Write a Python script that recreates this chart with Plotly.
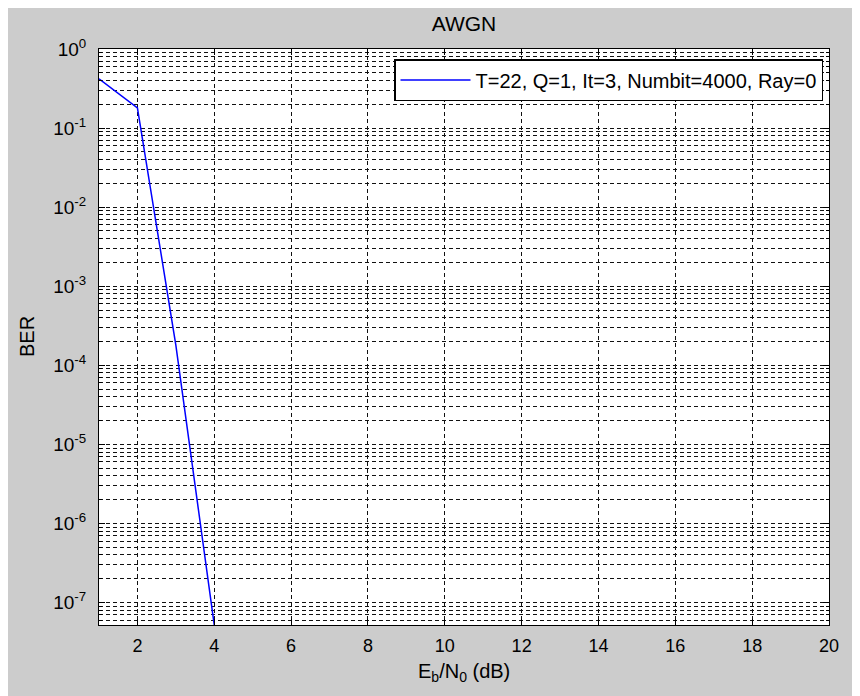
import numpy as np
import plotly.graph_objects as go

# Data
ebn0 = [1, 2, 3, 4]
ber = [0.42, 0.18, 1.8e-4, 5.2e-8]
series_name = "T=22, Q=1, It=3, Numbit=4000, Ray=0"
x_ticks = [2, 4, 6, 8, 10, 12, 14, 16, 18, 20]
y_exps = [0, -1, -2, -3, -4, -5, -6, -7]

W, H = 860, 696
L, R, T, B = 91, 39, 41, 79
plot_w = W - L - R
plot_h = H - T - B

y_lo = np.log10(min(ber))
y_major = [10.0 ** e for e in y_exps]
y_minor = [m * 10.0 ** e for e in range(-8, 0) for m in range(2, 10)
           if np.log10(m * 10.0 ** e) >= y_lo]

FONT = "Arial, Liberation Sans, sans-serif"
GRID = "#111111"

fig = go.Figure()
fig.add_trace(go.Scatter(x=ebn0, y=ber, mode="lines", name=series_name,
                         line=dict(color="#0000ff", width=1.5)))

fig.update_layout(
    width=W, height=H,
    margin=dict(l=L, r=R, t=T, b=B, autoexpand=False),
    paper_bgcolor="#cccccc", plot_bgcolor="white",
    font=dict(family=FONT, color="black", size=18),
    title=dict(text="AWGN", x=0.5, xref="paper", xanchor="center",
               y=1 - 16 / H, yanchor="middle", font=dict(size=21, family=FONT)),
    showlegend=True,
    legend=dict(x=(823 - 99) / plot_w, xanchor="right",
                y=(625 - 59) / plot_h, yanchor="top",
                bgcolor="white", bordercolor="black", borderwidth=1.5,
                font=dict(size=20, family=FONT), itemwidth=70,
                tracegroupgap=0),
)

fig.update_xaxes(
    range=[1, 20], tickvals=x_ticks, ticks="inside", ticklen=6,
    tickcolor="black", showline=True, linecolor="black", linewidth=1,
    mirror="ticks", showgrid=True, gridcolor=GRID, gridwidth=1,
    griddash="4px,3px", zeroline=False, ticklabelstandoff=4,
    tickfont=dict(size=18, family=FONT),
)
fig.update_yaxes(
    type="log", range=[y_lo, 0], tickvals=y_major,
    ticktext=[f"10<sup>{e}</sup>" for e in y_exps],
    ticks="inside", ticklen=6, tickcolor="black",
    showline=True, linecolor="black", linewidth=1, mirror="ticks",
    showgrid=True, gridcolor=GRID, gridwidth=1, griddash="4px,3px",
    zeroline=False, ticklabelstandoff=8, tickfont=dict(size=19, family=FONT),
    minor=dict(tickvals=y_minor, ticks="inside", ticklen=3, tickcolor="black",
               showgrid=True, gridcolor=GRID, gridwidth=1, griddash="4px,3px"),
)

# axis labels
fig.add_annotation(text="E<sub>b</sub>/N<sub>0</sub> (dB)", xref="paper", yref="paper",
                   x=0.5, y=-47 / plot_h, xanchor="center", yanchor="middle",
                   showarrow=False, font=dict(size=20, family=FONT))
fig.add_annotation(text="BER", xref="paper", yref="paper", textangle=-90,
                   x=-72 / plot_w, y=0.5, xanchor="center", yanchor="middle",
                   showarrow=False, font=dict(size=20, family=FONT))

fig.write_html("out.html")
